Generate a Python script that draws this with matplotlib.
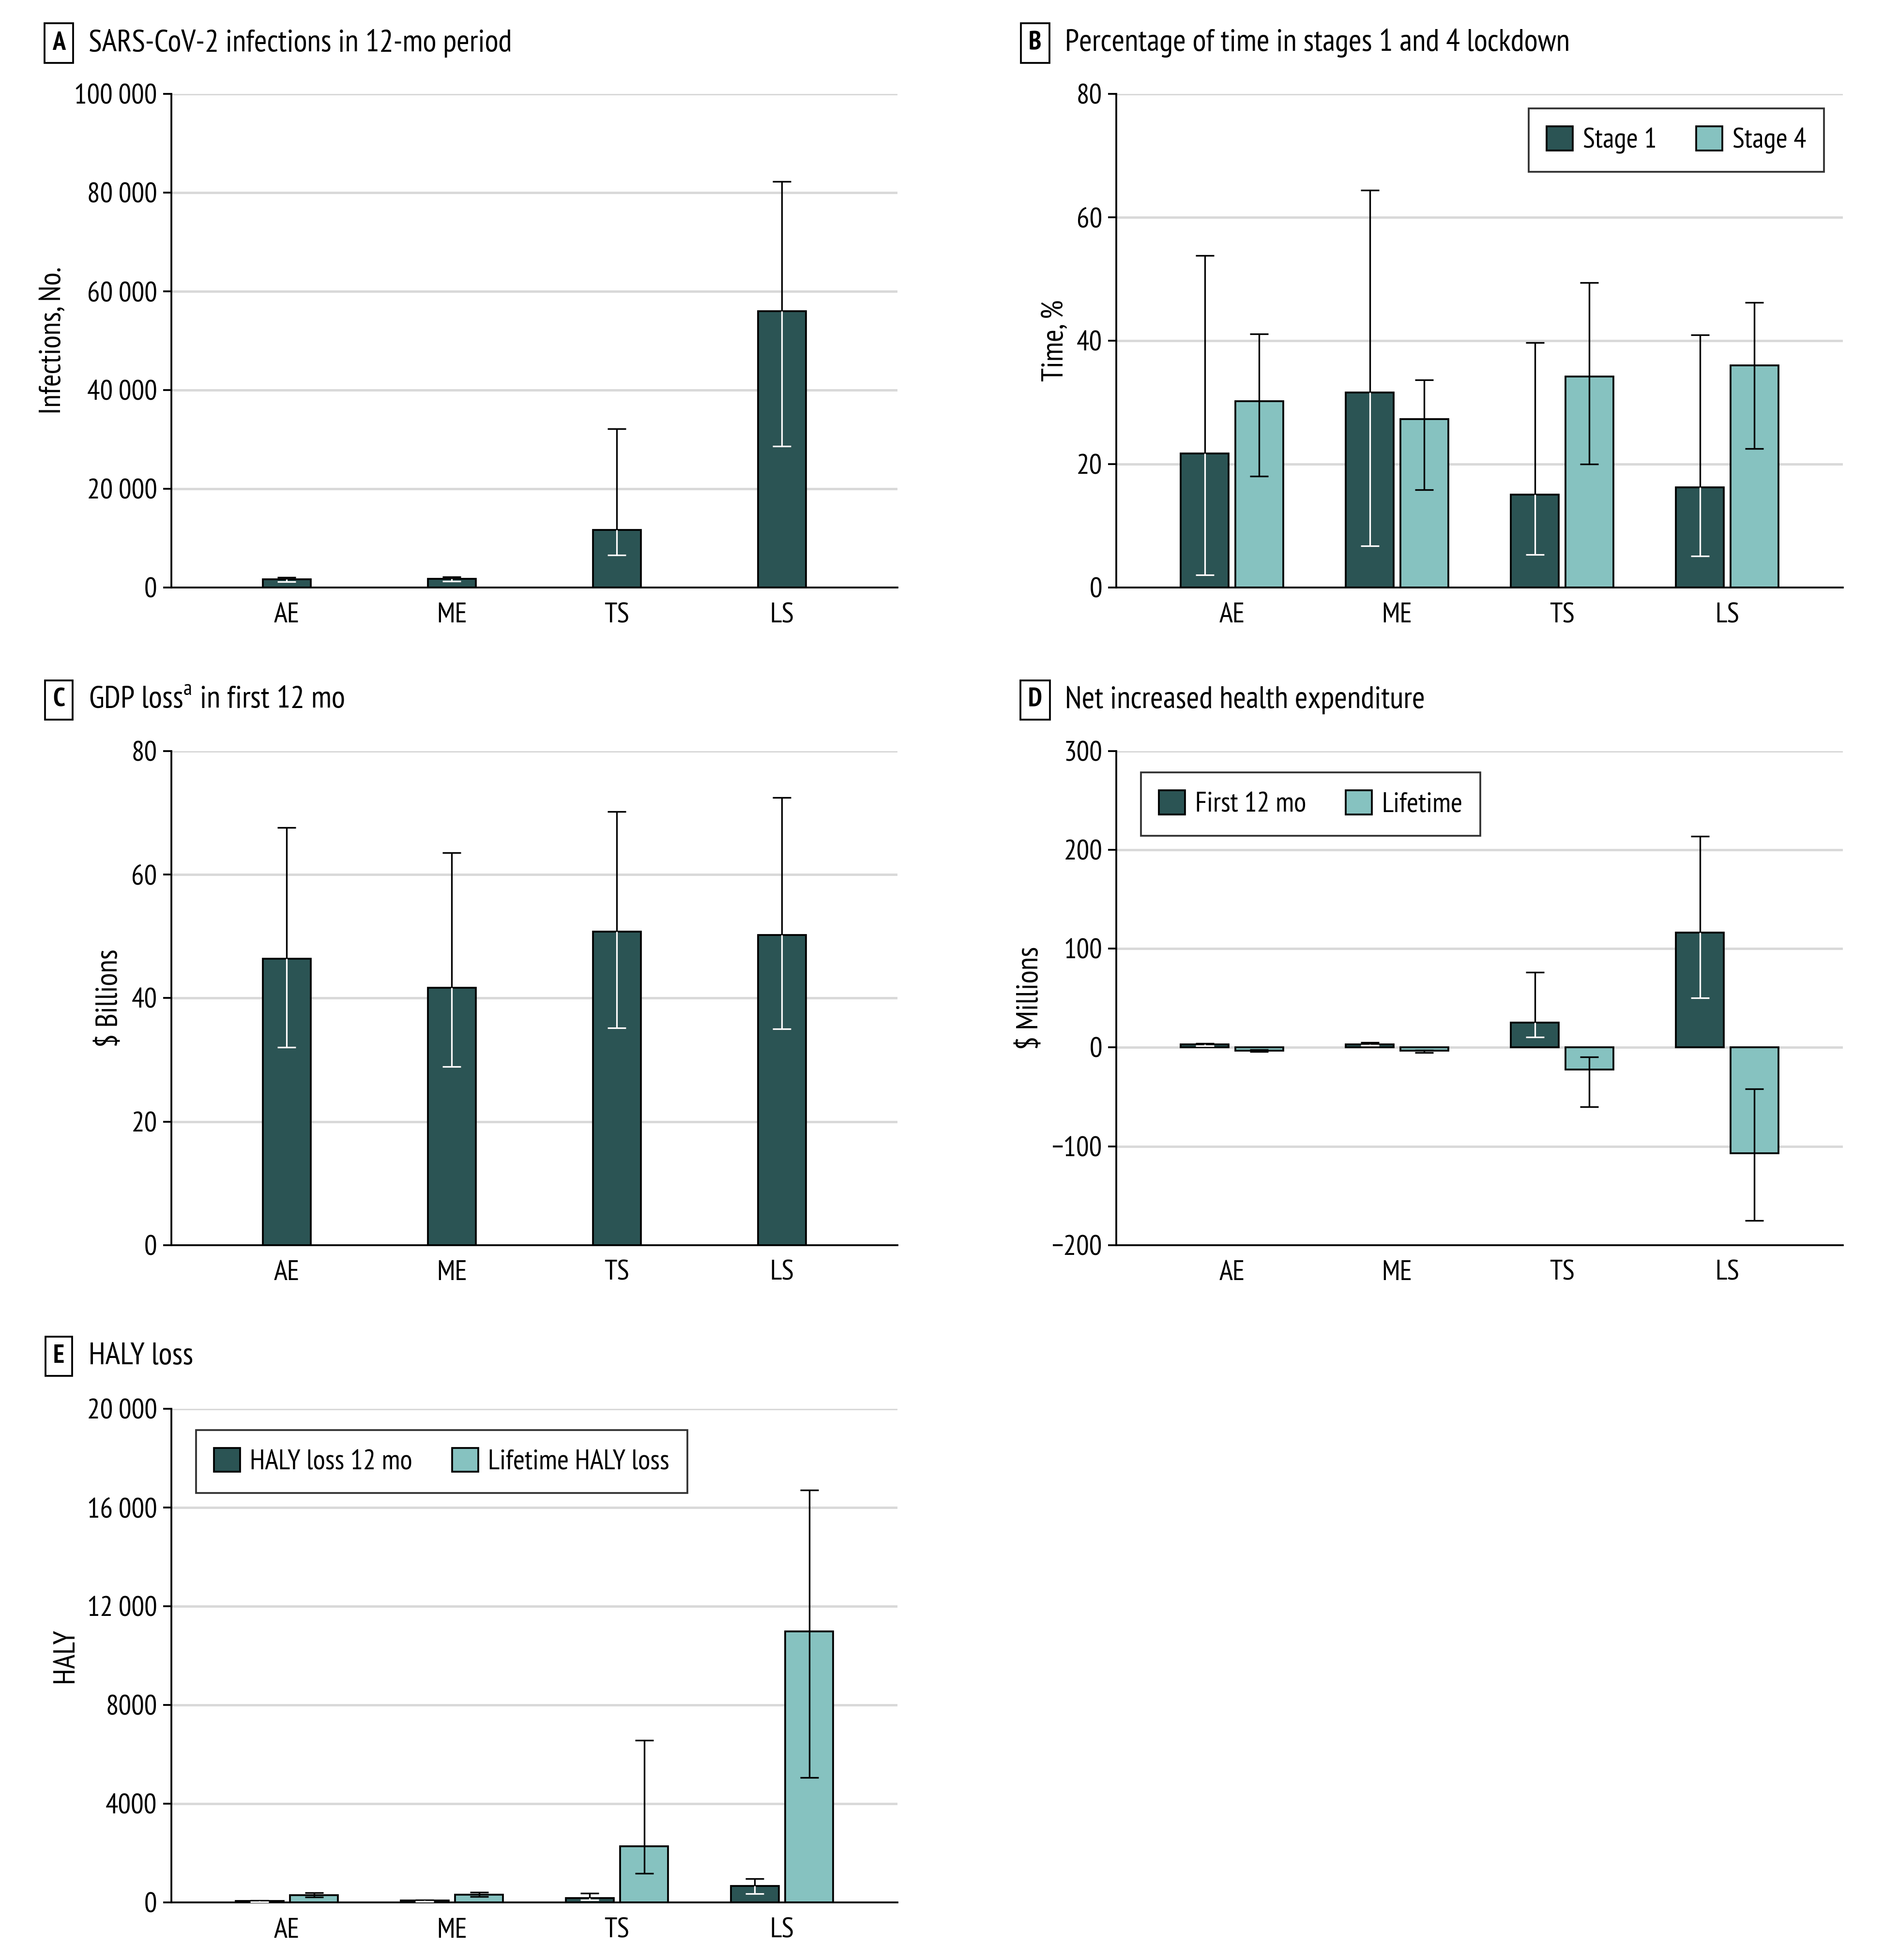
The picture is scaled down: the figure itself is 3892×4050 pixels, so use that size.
import matplotlib
matplotlib.use('Agg')
import matplotlib.pyplot as plt
from matplotlib.patches import Patch

FONT = ['PT Sans Narrow', 'Liberation Sans Narrow', 'DejaVu Sans']
plt.rcParams['font.family'] = FONT
plt.rcParams['mathtext.fontset'] = 'custom'
plt.rcParams['mathtext.rm'] = 'PT Sans Narrow'

DARK = '#2b5454'
LIGHT = '#86c2c0'
FS = 14.2      # tick labels
LFS = 15       # axis labels
LEGFS = 14     # legend text
TFS = 15.5     # panel titles
ELW = 0.8
CAP = 4.5

categories = ['AE', 'ME', 'TS', 'LS']

# A: infections
infections = [1670, 1760, 11650, 55950]
infections_lo = [1180, 1270, 6580, 28600]
infections_hi = [2060, 2160, 32150, 82250]

# B: lockdown time (%)
stage1 = [21.7, 31.6, 15.0, 16.2]
stage1_lo = [2.0, 6.7, 5.3, 5.1]
stage1_hi = [53.8, 64.4, 39.7, 40.9]
stage4 = [30.2, 27.3, 34.2, 36.0]
stage4_lo = [18.0, 15.8, 20.0, 22.5]
stage4_hi = [41.1, 33.6, 49.4, 46.2]

# C: GDP loss ($ billions)
gdp = [46.4, 41.7, 50.8, 50.2]
gdp_lo = [32.0, 28.9, 35.2, 35.0]
gdp_hi = [67.6, 63.6, 70.2, 72.5]

# D: health expenditure ($ millions)
health_12 = [3.0, 3.0, 25.0, 116.5]
health_12_lo = [1.5, 2.0, 10.3, 50.0]
health_12_hi = [4.0, 5.0, 76.0, 214.0]
health_life = [-3.0, -3.4, -22.5, -107.0]
health_life_lo = [-4.4, -5.0, -60.0, -175.0]
health_life_hi = [-2.0, -2.5, -9.8, -41.7]

# E: HALY loss
haly_12 = [60, 80, 176, 667]
haly_12_lo = [30, 40, 98, 353]
haly_12_hi = [90, 110, 372, 960]
haly_life = [294, 314, 2280, 10990]
haly_life_lo = [216, 235, 1176, 5060]
haly_life_hi = [392, 412, 6580, 16710]


def draw_err(ax, x, val, lo, hi, dark):
    ax.errorbar(x, val, yerr=[[val - lo], [hi - val]], fmt='none', ecolor='black',
                elinewidth=ELW, capsize=CAP, capthick=ELW, zorder=3)
    if dark:
        # part of the error bar inside a dark bar is white
        ax.plot([x, x], [lo, val], color='white', lw=ELW, zorder=4, solid_capstyle='butt')
        ax.plot([x], [lo], marker='_', ms=2 * CAP, mew=ELW, color='white', zorder=4)


def bars(ax, xs, vals, los, his, color, width=0.29):
    ax.bar(xs, vals, width=width, color=color, edgecolor='black', linewidth=0.9, zorder=2)
    for x, v, lo, hi in zip(xs, vals, los, his):
        draw_err(ax, x, v, lo, hi, color == DARK)


def style_axes(ax, ylim, yticks, yticklabels, ylabel):
    ax.set_xlim(-0.7, 3.7)
    ax.set_ylim(*ylim)
    ax.set_yticks(yticks)
    ax.set_yticklabels(yticklabels)
    ax.set_xticks(range(4))
    ax.set_xticklabels(categories)
    ax.yaxis.grid(True, color='#d9d9d9', lw=1.2)
    ax.set_axisbelow(True)
    for s in ['top', 'right']:
        ax.spines[s].set_visible(False)
    ax.spines['left'].set_linewidth(0.9)
    ax.spines['bottom'].set_linewidth(0.9)
    ax.tick_params(axis='x', length=0, pad=7.5, labelsize=FS)
    ax.tick_params(axis='y', length=4, width=0.9, pad=3, labelsize=FS)
    ax.set_ylabel(ylabel, fontsize=LFS, labelpad=4)


def panel_title(fig, x, y, letter, text):
    fig.text(x, y, letter, fontsize=13, fontweight='bold', ha='center', va='center',
             bbox=dict(boxstyle='square,pad=0.3', fc='white', ec='black', lw=0.9))
    fig.text(x + 0.0159, y, text, fontsize=TFS, ha='left', va='center')


def legend(ax, labels, loc, anchor):
    handles = [Patch(facecolor=DARK, edgecolor='black', lw=0.9),
               Patch(facecolor=LIGHT, edgecolor='black', lw=0.9)]
    leg = ax.legend(handles, labels, loc=loc, bbox_to_anchor=anchor, ncol=2, fontsize=LEGFS,
                    frameon=True, fancybox=False, edgecolor='black', borderaxespad=0,
                    handlelength=0.93, handleheight=0.93, handletextpad=0.35,
                    columnspacing=1.4, borderpad=0.63)
    leg.get_frame().set_linewidth(0.9)


fig = plt.figure(figsize=(3892 / 300, 4050 / 300), dpi=300)
W, H = 0.3855, 0.2519
axA = fig.add_axes([0.0909, 0.7003, W, H])
axB = fig.add_axes([0.5926, 0.7003, W, H])
axC = fig.add_axes([0.0909, 0.3648, W, H])
axD = fig.add_axes([0.5926, 0.3648, W, H])
axE = fig.add_axes([0.0909, 0.0293, W, H])

xs = list(range(4))
off = 0.165
left = [x - off for x in xs]
right = [x + off for x in xs]

# A
bars(axA, xs, infections, infections_lo, infections_hi, DARK)
style_axes(axA, (0, 100000), [0, 20000, 40000, 60000, 80000, 100000],
           ['0', '20\u2009000', '40\u2009000', '60\u2009000', '80\u2009000', '100\u2009000'],
           'Infections, No.')

# B
bars(axB, left, stage1, stage1_lo, stage1_hi, DARK)
bars(axB, right, stage4, stage4_lo, stage4_hi, LIGHT)
style_axes(axB, (0, 80), [0, 20, 40, 60, 80], ['0', '20', '40', '60', '80'], 'Time, %')
legend(axB, ['Stage 1', 'Stage 4'], 'upper right', (0.974, 0.970))

# C
bars(axC, xs, gdp, gdp_lo, gdp_hi, DARK)
style_axes(axC, (0, 80), [0, 20, 40, 60, 80], ['0', '20', '40', '60', '80'], '$ Billions')

# D
bars(axD, left, health_12, health_12_lo, health_12_hi, DARK)
bars(axD, right, health_life, health_life_lo, health_life_hi, LIGHT)
style_axes(axD, (-200, 300), [-200, -100, 0, 100, 200, 300],
           ['\u2212200', '\u2212100', '0', '100', '200', '300'], '$ Millions')
legend(axD, ['First 12 mo', 'Lifetime'], 'upper left', (0.034, 0.957))

# E
bars(axE, left, haly_12, haly_12_lo, haly_12_hi, DARK)
bars(axE, right, haly_life, haly_life_lo, haly_life_hi, LIGHT)
style_axes(axE, (0, 20000), [0, 4000, 8000, 12000, 16000, 20000],
           ['0', '4000', '8000', '12\u2009000', '16\u2009000', '20\u2009000'], 'HALY')
legend(axE, ['HALY loss 12 mo', 'Lifetime HALY loss'], 'upper left', (0.034, 0.957))

panel_title(fig, 0.0312, 0.978, 'A', 'SARS-CoV-2 infections in 12-mo period')
panel_title(fig, 0.5494, 0.978, 'B', 'Percentage of time in stages 1 and 4 lockdown')
panel_title(fig, 0.0312, 0.6429, 'C', 'GDP loss$^{\\mathrm{a}}$ in first 12 mo')
panel_title(fig, 0.5494, 0.6429, 'D', 'Net increased health expenditure')
panel_title(fig, 0.0312, 0.308, 'E', 'HALY loss')

fig.savefig('out.png', dpi=300, facecolor='white')
